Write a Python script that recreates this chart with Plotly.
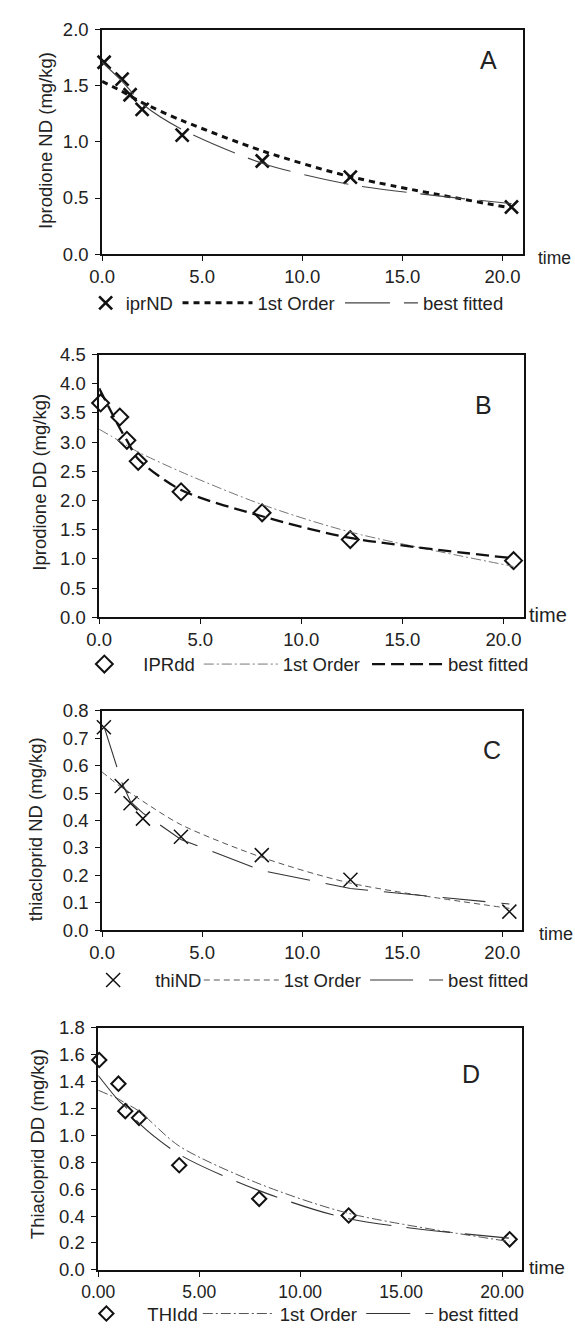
import plotly.graph_objects as go

W, H = 575, 1333

# ---------------- data ----------------
# Panel A - Iprodione ND
t_A = [0.1, 1.0, 1.4, 2.0, 4.0, 8.0, 12.4, 20.45]
iprND = [1.71, 1.56, 1.42, 1.29, 1.06, 0.83, 0.686, 0.42]
tfit_A = [0.0, 1.0, 1.4, 2.0, 4.0, 8.0, 12.4, 20.45]
first_A = [1.54, 1.45, 1.41, 1.35, 1.19, 0.92, 0.69, 0.41]
best_A = [1.71, 1.54, 1.46, 1.34, 1.11, 0.81, 0.62, 0.45]

# Panel B - Iprodione DD
t_B = [0.07, 1.02, 1.37, 1.93, 4.05, 8.06, 12.42, 20.5]
IPRdd = [3.67, 3.43, 3.03, 2.67, 2.15, 1.79, 1.33, 0.97]
tfit_B = [0.0, 1.0, 1.37, 1.93, 4.05, 8.06, 12.42, 20.5]
first_B = [3.22, 3.02, 2.94, 2.83, 2.49, 1.93, 1.46, 0.87]
best_B = [3.92, 3.25, 3.03, 2.71, 2.18, 1.73, 1.36, 1.01]

# Panel C - thiacloprid ND
t_C = [0.09, 0.98, 1.42, 2.04, 3.94, 7.98, 12.41, 20.35]
thiND = [0.74, 0.526, 0.463, 0.407, 0.341, 0.274, 0.184, 0.068]
tfit_C = [0.0, 0.98, 1.42, 2.04, 3.94, 7.98, 12.41, 20.35]
first_C = [0.577, 0.52, 0.50, 0.47, 0.385, 0.266, 0.172, 0.080]
tbest_C = [0.09, 0.75, 0.98, 1.42, 2.04, 3.94, 7.98, 12.41, 20.35]
best_C = [0.744, 0.594, 0.54, 0.469, 0.427, 0.331, 0.218, 0.152, 0.096]

# Panel D - Thiacloprid DD
t_D = [0.05, 1.0, 1.34, 2.02, 4.01, 7.97, 12.4, 20.37]
THIdd = [1.56, 1.384, 1.18, 1.13, 0.778, 0.528, 0.404, 0.227]
tfit_D = [0.0, 1.0, 1.34, 2.02, 4.01, 7.97, 12.4, 20.37]
first_D = [1.335, 1.27, 1.24, 1.18, 0.92, 0.64, 0.42, 0.21]
best_D = [1.445, 1.26, 1.213, 1.09, 0.858, 0.589, 0.38, 0.235]

x_ticks = [0, 5, 10, 15, 20]

FONT = "Liberation Sans, Arial, sans-serif"
TXT = "#222222"
FS = 18.5


def px_x(p):
    return p / W


def px_y(p):
    return 1 - p / H


fig = go.Figure()

panels = [
    dict(box=(88, 523, 19, 247), ymax=2.0, dy=0.5, xfmt=".1f", xmax=21.01, xfs=FS,
         letter="A", lpos=(488, 50), title="Iprodione ND (mg/kg)", tpos=(30, 132),
         timepos=(537, 251), timefs=17.5),
    dict(box=(85, 524, 349, 616), ymax=4.5, dy=0.5, xfmt=".1f", xmax=21.0, xfs=FS,
         letter="B", lpos=(482, 400), title="Iprodione DD (mg/kg)", tpos=(23, 479),
         timepos=(527, 614), timefs=20),
    dict(box=(88, 522, 711, 934), ymax=0.8, dy=0.1, xfmt=".1f", xmax=20.97, xfs=FS,
         letter="C", lpos=(491, 751), title="thiacloprid ND (mg/kg)", tpos=(20, 831),
         timepos=(538, 938), timefs=18),
    dict(box=(84, 522, 1033, 1279), ymax=1.8, dy=0.2, xfmt=".2f", xmax=20.97, xfs=17.5,
         letter="D", lpos=(469, 1080), title="Thiacloprid DD (mg/kg)", tpos=(22, 1151),
         timepos=(527, 1277), timefs=19),
]

annotations = []
for i, p in enumerate(panels):
    n = "" if i == 0 else str(i + 1)
    x0, x1, y0, y1 = p["box"]
    fig.layout["xaxis" + n] = dict(
        domain=[px_x(x0), px_x(x1)], anchor="y" + n, range=[0, p["xmax"]],
        tickvals=x_ticks, tickformat=p["xfmt"], ticks="outside", ticklen=5,
        tickwidth=1.2, tickcolor="#111", showline=True, linecolor="#111",
        linewidth=1.6, mirror=True, showgrid=False, zeroline=False,
        tickfont=dict(family=FONT, size=p["xfs"], color=TXT), fixedrange=True)
    fig.layout["yaxis" + n] = dict(
        domain=[px_y(y1), px_y(y0)], anchor="x" + n, range=[0, p["ymax"]],
        dtick=p["dy"], tick0=0, tickformat=".1f", ticks="outside", ticklen=5,
        tickwidth=1.2, tickcolor="#111", showline=True, linecolor="#111",
        linewidth=1.6, mirror=True, showgrid=False, zeroline=False,
        ticklabelstandoff=3,
        tickfont=dict(family=FONT, size=FS, color=TXT), fixedrange=True)
    annotations.append(dict(text=p["letter"], x=px_x(p["lpos"][0]), y=px_y(p["lpos"][1]),
                            xref="paper", yref="paper", showarrow=False,
                            xanchor="center", yanchor="middle",
                            font=dict(family=FONT, size=25, color=TXT)))
    annotations.append(dict(text=p["title"], x=px_x(p["tpos"][0]), y=px_y(p["tpos"][1]),
                            xref="paper", yref="paper", showarrow=False, textangle=-90,
                            xanchor="center", yanchor="middle",
                            font=dict(family=FONT, size=FS, color=TXT)))
    annotations.append(dict(text="time", x=px_x(p["timepos"][0]), y=px_y(p["timepos"][1]),
                            xref="paper", yref="paper", showarrow=False,
                            xanchor="left", yanchor="middle",
                            font=dict(family=FONT, size=p["timefs"], color=TXT)))

legend_specs = {}
lg_counter = [0]


def new_legend(xpx, ypx, itemwidth):
    lg_counter[0] += 1
    name = "legend" if lg_counter[0] == 1 else "legend%d" % lg_counter[0]
    legend_specs[name] = dict(
        x=px_x(xpx), y=px_y(ypx), xanchor="left", yanchor="middle",
        orientation="h", itemwidth=itemwidth, bgcolor="rgba(0,0,0,0)",
        borderwidth=0, font=dict(family=FONT, size=FS, color=TXT),
        itemclick=False, itemdoubleclick=False)
    return name


def add_panel(n, t, obs, tfit1, fit1, tfit2, fit2, name_obs, marker, line1, line2, leg):
    xa = "x" + n
    ya = "y" + n
    fig.add_trace(go.Scatter(x=t, y=obs, mode="markers", name=name_obs, marker=marker,
                             xaxis=xa, yaxis=ya, legend=leg[0], cliponaxis=False))
    fig.add_trace(go.Scatter(x=tfit1, y=fit1, mode="lines", name="1st Order", line=line1,
                             xaxis=xa, yaxis=ya, legend=leg[1]))
    fig.add_trace(go.Scatter(x=tfit2, y=fit2, mode="lines", name="best fitted", line=line2,
                             xaxis=xa, yaxis=ya, legend=leg[2]))


X_BOLD = dict(symbol="x-thin-open", size=13, color="#111", line=dict(width=2.6, color="#111"))
X_THIN = dict(symbol="x-thin-open", size=14, color="#111", line=dict(width=1.5, color="#111"))
DIA_B = dict(symbol="diamond-open", size=13, color="#111", line=dict(width=2.0, color="#111"))
DIA_D = dict(symbol="diamond-open", size=11, color="#111", line=dict(width=2.0, color="#111"))

# Panel A legend: item start px, row y, item width
legA = [new_legend(71, 297, 30), new_legend(166, 297, 70), new_legend(334, 297, 73)]
add_panel("", t_A, iprND, tfit_A, first_A, tfit_A, best_A, "iprND", X_BOLD,
          dict(color="#111", width=3.0, dash="6px,5px", shape="spline", smoothing=0.8),
          dict(color="#444", width=1.1, dash="45px,14px", shape="spline", smoothing=0.8),
          legA)

# Panel B
legB = [new_legend(50, 664, 68), new_legend(188, 664, 74), new_legend(362, 664, 71)]
add_panel("2", t_B, IPRdd, tfit_B, first_B, tfit_B, best_B, "IPRdd", DIA_B,
          dict(color="#777", width=1.0, dash="10px,3px,2px,3px", shape="spline", smoothing=0.8),
          dict(color="#111", width=2.3, dash="13px,6px", shape="spline", smoothing=0.8),
          legB)

# Panel C
legC = [new_legend(56, 985, 74), new_legend(188, 985, 75), new_legend(360, 985, 73)]
add_panel("3", t_C, thiND, tfit_C, first_C, tbest_C, best_C, "thiND", X_THIN,
          dict(color="#555", width=1.0, dash="6px,4px", shape="spline", smoothing=0.8),
          dict(color="#333", width=1.1, dash="43px,16px"),
          legC)

# Panel D
legD = [new_legend(50, 1324, 72), new_legend(187, 1324, 72), new_legend(356, 1324, 67)]
add_panel("4", t_D, THIdd, tfit_D, first_D, tfit_D, best_D, "THIdd", DIA_D,
          dict(color="#555", width=1.0, dash="10px,3px,2px,3px", shape="spline", smoothing=0.8),
          dict(color="#333", width=1.1, dash="44px,15px", shape="spline", smoothing=0.8),
          legD)

fig.update_layout(
    width=W, height=H, margin=dict(l=0, r=0, t=0, b=0),
    paper_bgcolor="white", plot_bgcolor="white",
    font=dict(family=FONT, size=FS, color=TXT),
    annotations=annotations, showlegend=True,
)
fig.update_layout(**legend_specs)

# remove the browser's default 8px page margin so the figure fills the window exactly
fig.write_html("out.html", config={"displayModeBar": False},
               post_script="document.body.style.margin='0';document.body.style.overflow='hidden';")
